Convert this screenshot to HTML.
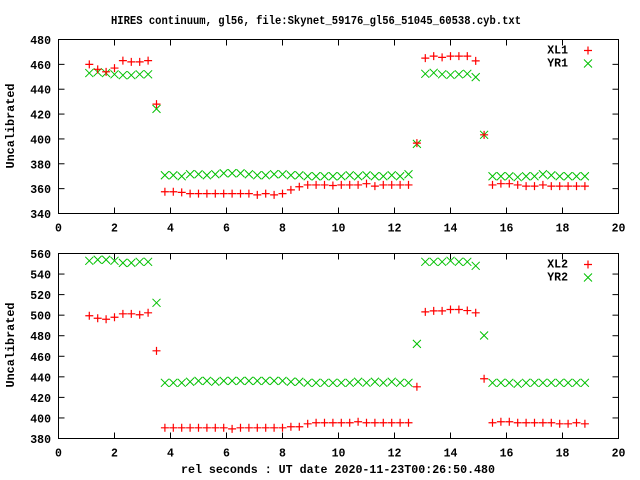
<!DOCTYPE html>
<html><head><meta charset="utf-8"><style>
html,body{margin:0;padding:0;background:#fff;}
svg{display:block;}
text{font-family:"Liberation Mono","DejaVu Sans Mono",monospace;font-weight:bold;font-size:11.5px;fill:#000;}
</style></head><body>
<svg id="chart" width="640" height="480" viewBox="0 0 640 480" xmlns="http://www.w3.org/2000/svg">
<text x="111" y="24" textLength="410" lengthAdjust="spacingAndGlyphs">HIRES continuum, gl56, file:Skynet_59176_gl56_51045_60538.cyb.txt</text>
<text x="181" y="473" textLength="314" lengthAdjust="spacingAndGlyphs">rel seconds : UT date 2020-11-23T00:26:50.480</text>
<text transform="translate(14,126) rotate(-90)" text-anchor="middle" textLength="85" lengthAdjust="spacingAndGlyphs">Uncalibrated</text>
<text transform="translate(14,345) rotate(-90)" text-anchor="middle" textLength="85" lengthAdjust="spacingAndGlyphs">Uncalibrated</text>
<g id="panels"></g>
</svg>
<script>
const xStart = 1.1, xStep = 0.3;
const topXL1 = [460,456,454,457,463,462,462,463,428,357.5,357.5,357,356,356,356,356,356,356,356,356,355,356,355,356,359,361.5,363,363,363,362.5,363,363,363,364,362,363,363,363,363,396.6,465,466.6,465.6,466.6,466.6,466.6,462.8,403.3,363,364,364,363,362,362,363,362,362,362,362,362];
const topYR1 = [453,453.7,453,452,451.3,451.3,452,452,424.2,370.8,370.8,370,371.6,371.6,370.8,371.6,372.4,372.4,372.4,371.6,370.8,370.8,371.6,371.6,370.8,370.8,370,370,370,370,370,370.8,370,370.8,370,370,370.8,370,371.6,396,452.4,453.2,452,451.5,452,452.4,449.7,403.3,370,370,370,369.2,370,370,371.6,370.8,370,370,370,370];
const botXL2 = [499.4,497,496,498,501.3,501.3,500.4,502.3,465.3,390.4,390.4,390.4,390.4,390.4,390.4,390.4,390.4,389.4,390.4,390.4,390.4,390.4,390.4,390.4,391.4,391.4,394.3,395.3,395.3,395.3,395.3,395.3,396.3,395.3,395.3,395.3,395.3,395.3,395.3,430.3,503.2,504.2,504.2,505.5,505.5,504.5,502.3,438.1,395.3,396.3,396.3,395.3,395.3,395.3,395.3,395.3,394.3,394.3,395.3,394.3];
const botYR2 = [552.9,553.9,553.9,552.9,550.9,550.9,551.9,551.9,512,434.2,434.2,434.2,435.2,436.1,436.1,435.2,436.1,436.1,436.1,436.1,436.1,436.1,436.1,436.1,435.2,435.2,434.2,434.2,434.2,434.2,434.2,434.2,435.2,434.2,435.2,434.2,435.2,434.2,434.2,472.1,551.9,551.9,551.9,552.9,551.9,551.9,548,480.2,434.2,434.2,434.2,433.2,434.2,434.2,434.2,434.2,434.2,434.2,434.2,434.2];
const xTicks = [0,2,4,6,8,10,12,14,16,18,20];
const topYTicks = [340,360,380,400,420,440,460,480];
const botYTicks = [380,400,420,440,460,480,500,520,540,560];

const NS = "http://www.w3.org/2000/svg";
const root = document.getElementById('panels');
function mk(tag, attrs, parent){const e=document.createElementNS(NS,tag);for(const k in attrs)e.setAttribute(k,attrs[k]);(parent||root).appendChild(e);return e;}
const X0=58.5, X1=618.5;
function xs(v){return X0+(v-0)/(20-0)*(X1-X0);}

function panel(name, top, bottom, ymin, ymax, yticks, s1, s2, n1, n2){
  const g = mk('g',{});
  
  
  const ys = v => bottom-(v-ymin)/(ymax-ymin)*(bottom-top);
  const fr = mk('rect',{x:X0,y:top,width:X1-X0,height:bottom-top,fill:'none',stroke:'#000','stroke-width':1},g);
  
  
  yticks.forEach(t=>{
    const y=ys(t);
    mk('line',{x1:X0,x2:X0+6,y1:y,y2:y,stroke:'#000'},g);
    mk('line',{x1:X1-6,x2:X1,y1:y,y2:y,stroke:'#000'},g);
    const tx=mk('text',{x:51,y:y+4.5,'text-anchor':'end'},g);
    tx.textContent=t;
    
    
  });
  xTicks.forEach(t=>{
    const x=xs(t);
    mk('line',{x1:x,x2:x,y1:bottom,y2:bottom-6,stroke:'#000'},g);
    mk('line',{x1:x,x2:x,y1:top,y2:top+6,stroke:'#000'},g);
    const tx=mk('text',{x:x,y:bottom+18,'text-anchor':'middle'},g);
    tx.textContent=t;
    
    
  });
  function plus(x,y,p){mk('path',{d:`M${x-4},${y}H${x+4}M${x},${y-4}V${y+4}`,stroke:'#ff0000','stroke-width':1.2,fill:'none'},p);}
  function cross(x,y,p){mk('path',{d:`M${x-4},${y-4}L${x+4},${y+4}M${x-4},${y+4}L${x+4},${y-4}`,stroke:'#00c000','stroke-width':1,fill:'none'},p);}
  const g2=mk('g',{},g);
  
  
  s2.forEach((v,i)=>cross(xs(xStart+i*xStep),ys(v),g2));
  const g1=mk('g',{},g);
  
  
  s1.forEach((v,i)=>plus(xs(xStart+i*xStep),ys(v),g1));
  const l1=mk('text',{x:568,y:top+14,'text-anchor':'end'},g);
  l1.textContent=n1;
  
  
  plus(588,top+11,g);
  const l2=mk('text',{x:568,y:top+27,'text-anchor':'end'},g);
  l2.textContent=n2;
  
  
  cross(588,top+24,g);
}
panel('top',39.5,213.5,340,480,topYTicks,topXL1,topYR1,'XL1','YR1');
panel('bottom',253.5,438.5,380,560,botYTicks,botXL2,botYR2,'XL2','YR2');
</script>
</body></html>
